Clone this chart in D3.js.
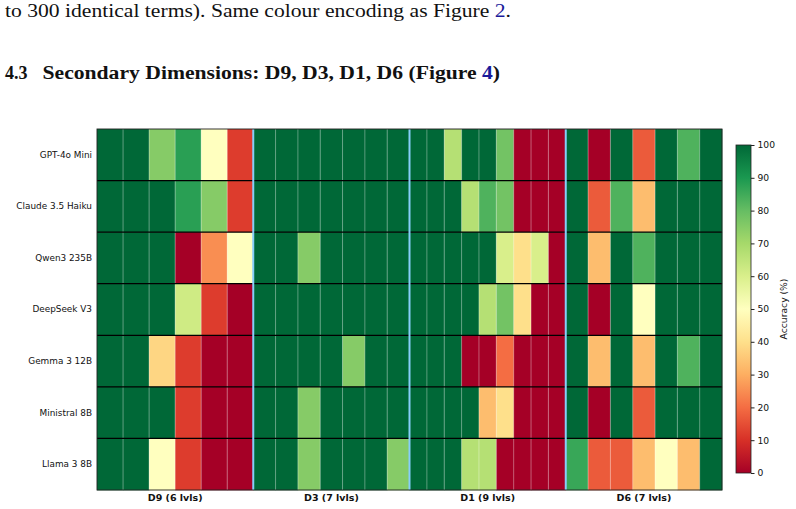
<!DOCTYPE html>
<html>
<head>
<meta charset="utf-8">
<script src="https://cdn.jsdelivr.net/npm/d3@7/dist/d3.min.js"></script>
<style>
  body { margin: 0; background: #fff; }
  svg { display: block; }
</style>
</head>
<body>
<svg width="796" height="509"></svg>
<script>
// models (rows) and dimension groups (columns)
const models = ["GPT-4o Mini", "Claude 3.5 Haiku", "Qwen3 235B", "DeepSeek V3",
                "Gemma 3 12B", "Ministral 8B", "Llama 3 8B"];
const dims = ["D9", "D3", "D1", "D6"];
const levels = [6, 7, 9, 7];

// accuracy (%) per model, columns = D9 levels, D3 levels, D1 levels, D6 levels
const gpt4oMini   = [100,100,75,88,50,12,  100,100,100,100,100,100,100,  100,100,67,100,100,78,0,0,0,  100,0,100,17,100,83,100];
const claudeHaiku = [100,100,100,88,75,12, 100,100,100,100,100,100,100,  100,100,100,67,83,78,0,0,0,  100,17,83,33,100,100,100];
const qwen3       = [100,100,100,0,25,50,  100,100,75,100,100,100,100,   100,100,100,100,100,60,40,60,0, 100,33,100,83,100,100,100];
const deepseekV3  = [100,100,100,62,12,0,  100,100,100,100,100,100,100,  100,100,100,100,67,78,40,0,0, 100,0,100,50,100,100,100];
const gemma3      = [100,100,38,12,0,0,    100,100,100,100,75,100,100,   100,100,100,0,0,20,0,0,0,     100,33,100,33,100,83,100];
const ministral   = [100,100,100,12,0,0,   100,100,75,100,100,100,100,   100,100,100,100,33,40,0,0,0,  100,0,100,17,100,100,100];
const llama3      = [100,100,50,12,0,0,    100,100,75,100,100,100,75,    100,100,100,67,67,0,0,0,0,    86,17,17,33,50,33,100];
const values = [gpt4oMini, claudeHaiku, qwen3, deepseekV3, gemma3, ministral, llama3];

const cbTicks = [0, 10, 20, 30, 40, 50, 60, 70, 80, 90, 100];
const rdylgn = ["#a50026","#d73027","#f46d43","#fdae61","#fee08b","#ffffbf",
                "#d9ef8b","#a6d96a","#66bd63","#1a9850","#006837"];

const svg = d3.select("svg");

// paper text around the figure
const body = svg.append("g").attr("font-family", "'Liberation Serif', 'DejaVu Serif', serif");
const line1 = body.append("text").attr("x", 5).attr("y", 16.7).attr("font-size", 18)
  .attr("fill", "#111").attr("textLength", 506).attr("lengthAdjust", "spacingAndGlyphs");
line1.append("tspan").text("to 300 identical terms). Same colour encoding as Figure ");
line1.append("tspan").attr("fill", "#1a1a9a").text("2");
line1.append("tspan").text(".");

body.append("text").attr("x", 5).attr("y", 79).attr("font-size", 18).attr("font-weight", "bold")
  .attr("fill", "#111").text("4.3");
const head = body.append("text").attr("x", 42.5).attr("y", 79).attr("font-size", 18)
  .attr("font-weight", "bold").attr("fill", "#111")
  .attr("textLength", 457.5).attr("lengthAdjust", "spacingAndGlyphs");
head.append("tspan").text("Secondary Dimensions: D9, D3, D1, D6 (Figure ");
head.append("tspan").attr("fill", "#1a1a9a").text("4");
head.append("tspan").text(")");

// heatmap
const plot = {left: 97, right: 722, top: 129, bottom: 490};

const y = d3.scaleBand().domain(models).range([plot.top, plot.bottom]);
const gx = d3.scaleBand().domain(dims).range([plot.left, plot.right]);
const color = d3.scaleLinear().domain(d3.range(0, 101, 10)).range(rdylgn).clamp(true);

// flatten into cells
let cells = [];
let colStarts = [];
let start = 0;
dims.forEach((dim, di) => {
  colStarts.push(start);
  start += levels[di];
});
models.forEach((m, mi) => {
  dims.forEach((dim, di) => {
    const lx = d3.scaleBand().domain(d3.range(levels[di])).range([gx(dim), gx(dim) + gx.bandwidth()]);
    for (let k = 0; k < levels[di]; k++) {
      cells.push({model: m, dim: dim, x0: lx(k), w: lx.bandwidth(), value: values[mi][colStarts[di] + k]});
    }
  });
});

const hm = svg.append("g").attr("id", "heatmap");

hm.selectAll("rect.cell").data(cells).enter().append("rect")
  .attr("class", "cell")
  .attr("x", d => d.x0)
  .attr("y", d => y(d.model))
  .attr("width", d => d.w + 0.3)
  .attr("height", y.bandwidth() + 0.3)
  .attr("fill", d => color(d.value));

// thin column separators inside each group
let innerLines = [];
dims.forEach((dim, di) => {
  const lx = d3.scaleBand().domain(d3.range(levels[di])).range([gx(dim), gx(dim) + gx.bandwidth()]);
  for (let k = 1; k < levels[di]; k++) innerLines.push(lx(k));
});
hm.selectAll("line.inner").data(innerLines).enter().append("line")
  .attr("class", "inner")
  .attr("x1", d => d).attr("x2", d => d)
  .attr("y1", plot.top).attr("y2", plot.bottom)
  .attr("stroke", "#fff").attr("stroke-opacity", 0.35).attr("stroke-width", 1);

// row separators
hm.selectAll("line.row").data(models.slice(1)).enter().append("line")
  .attr("class", "row")
  .attr("x1", plot.left).attr("x2", plot.right)
  .attr("y1", d => y(d)).attr("y2", d => y(d))
  .attr("stroke", "#000").attr("stroke-width", 1.2);

// group separators
hm.selectAll("line.group").data(dims.slice(1)).enter().append("line")
  .attr("class", "group")
  .attr("x1", d => gx(d)).attr("x2", d => gx(d))
  .attr("y1", plot.top).attr("y2", plot.bottom)
  .attr("stroke", "#87cefa").attr("stroke-width", 2);

// frame
hm.append("rect")
  .attr("x", plot.left).attr("y", plot.top)
  .attr("width", plot.right - plot.left).attr("height", plot.bottom - plot.top)
  .attr("fill", "none").attr("stroke", "#222").attr("stroke-width", 0.9);

// axes
const yAxis = svg.append("g")
  .attr("transform", "translate(" + plot.left + ",0)")
  .call(d3.axisLeft(y).tickSize(0).tickPadding(5));
yAxis.select(".domain").remove();
yAxis.selectAll("text").attr("font-family", "'DejaVu Sans', sans-serif").attr("font-size", 8.9).attr("fill", "#111");

const xAxis = svg.append("g")
  .attr("transform", "translate(0," + plot.bottom + ")")
  .call(d3.axisBottom(gx).tickSize(0).tickPadding(4)
    .tickFormat((d, i) => d + " (" + levels[i] + " lvls)"));
xAxis.select(".domain").remove();
xAxis.selectAll("text").attr("font-family", "'DejaVu Sans', sans-serif").attr("font-size", 9.5)
  .attr("font-weight", "bold").attr("fill", "#111");

// colorbar
const cb = {x: 736, w: 15, top: 145, bottom: 473};
const defs = svg.append("defs");
const grad = defs.append("linearGradient").attr("id", "cbgrad")
  .attr("x1", 0).attr("y1", 1).attr("x2", 0).attr("y2", 0);
grad.selectAll("stop").data(rdylgn).enter().append("stop")
  .attr("offset", (d, i) => i / (rdylgn.length - 1))
  .attr("stop-color", d => d);

svg.append("rect")
  .attr("x", cb.x).attr("y", cb.top).attr("width", cb.w).attr("height", cb.bottom - cb.top)
  .attr("fill", "url(#cbgrad)").attr("stroke", "#222").attr("stroke-width", 0.8);

const cy = d3.scaleLinear().domain([0, 100]).range([cb.bottom, cb.top]);
const cAxis = svg.append("g")
  .attr("transform", "translate(" + (cb.x + cb.w) + ",0)")
  .call(d3.axisRight(cy).tickValues(cbTicks).tickSize(3.5).tickPadding(3));
cAxis.select(".domain").remove();
cAxis.selectAll("line").attr("stroke", "#222");
cAxis.selectAll("text").attr("font-family", "'DejaVu Sans', sans-serif").attr("font-size", 9.2).attr("fill", "#111");

svg.append("text")
  .attr("transform", "translate(787," + ((cb.top + cb.bottom) / 2) + ") rotate(-90)")
  .attr("text-anchor", "middle")
  .attr("font-family", "'DejaVu Sans', sans-serif").attr("font-size", 9.2).attr("fill", "#111")
  .text("Accuracy (%)");
</script>
</body>
</html>
